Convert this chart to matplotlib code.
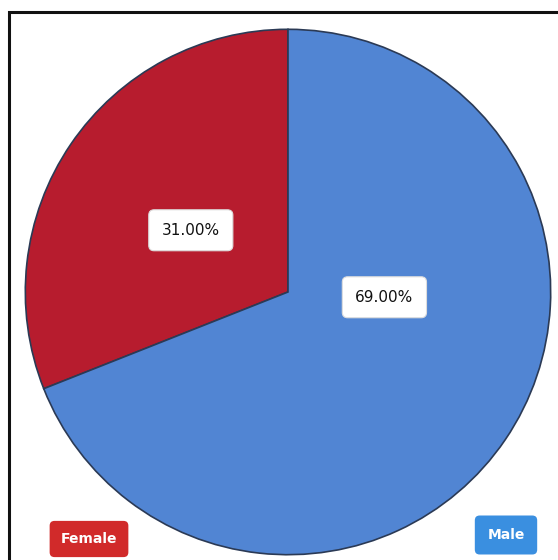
import numpy as np
import matplotlib.pyplot as plt
from matplotlib.patches import Rectangle

# Données
categories = ['Female', 'Male']
values = [31.0, 69.0]
slice_colors = ['#b71c2e', '#5185d3']
legend_colors = ['#d12a2a', '#3a8fe0']

fig = plt.figure(figsize=(5.58, 5.60), dpi=100)

# Cadre autour du graphique
fig.patches.append(Rectangle((9 / 558, -0.01), 1.0, (560 - 12) / 560 + 0.01,
                             transform=fig.transFigure, fill=False,
                             edgecolor='#111111', linewidth=2.2))

ax = fig.add_axes([24 / 558, 4 / 560, 528 / 558, 528 / 560])
wedges, _ = ax.pie(values, colors=slice_colors, startangle=90,
                   counterclock=True,
                   wedgeprops=dict(edgecolor='#2b3a55', linewidth=1.2))
ax.set_xlim(-1.005, 1.005)
ax.set_ylim(-1.005, 1.005)
ax.set_aspect('equal')

# Étiquettes de pourcentage
label_pos = [(-0.37, 0.235), (0.367, -0.02)]
for (x, y), v in zip(label_pos, values):
    ax.text(x, y, f'{v:.2f}%', ha='center', va='center', fontsize=11,
            color='#111111', family='DejaVu Sans',
            bbox=dict(boxstyle='round,pad=0.85,rounding_size=0.35',
                      facecolor='white', edgecolor='#dddddd', linewidth=0.8))

# Légendes en bas
fig.text(89 / 558, 1 - 539 / 560, categories[0], ha='center', va='center',
         fontsize=10, fontweight='bold', color='white',
         bbox=dict(boxstyle='round,pad=0.8,rounding_size=0.35',
                   facecolor=legend_colors[0], edgecolor='none'))
fig.text(506 / 558, 1 - 535 / 560, categories[1], ha='center', va='center',
         fontsize=10, fontweight='bold', color='white',
         bbox=dict(boxstyle='round,pad=0.9,rounding_size=0.35',
                   facecolor=legend_colors[1], edgecolor='none'))

fig.savefig('out.png', dpi=100)
